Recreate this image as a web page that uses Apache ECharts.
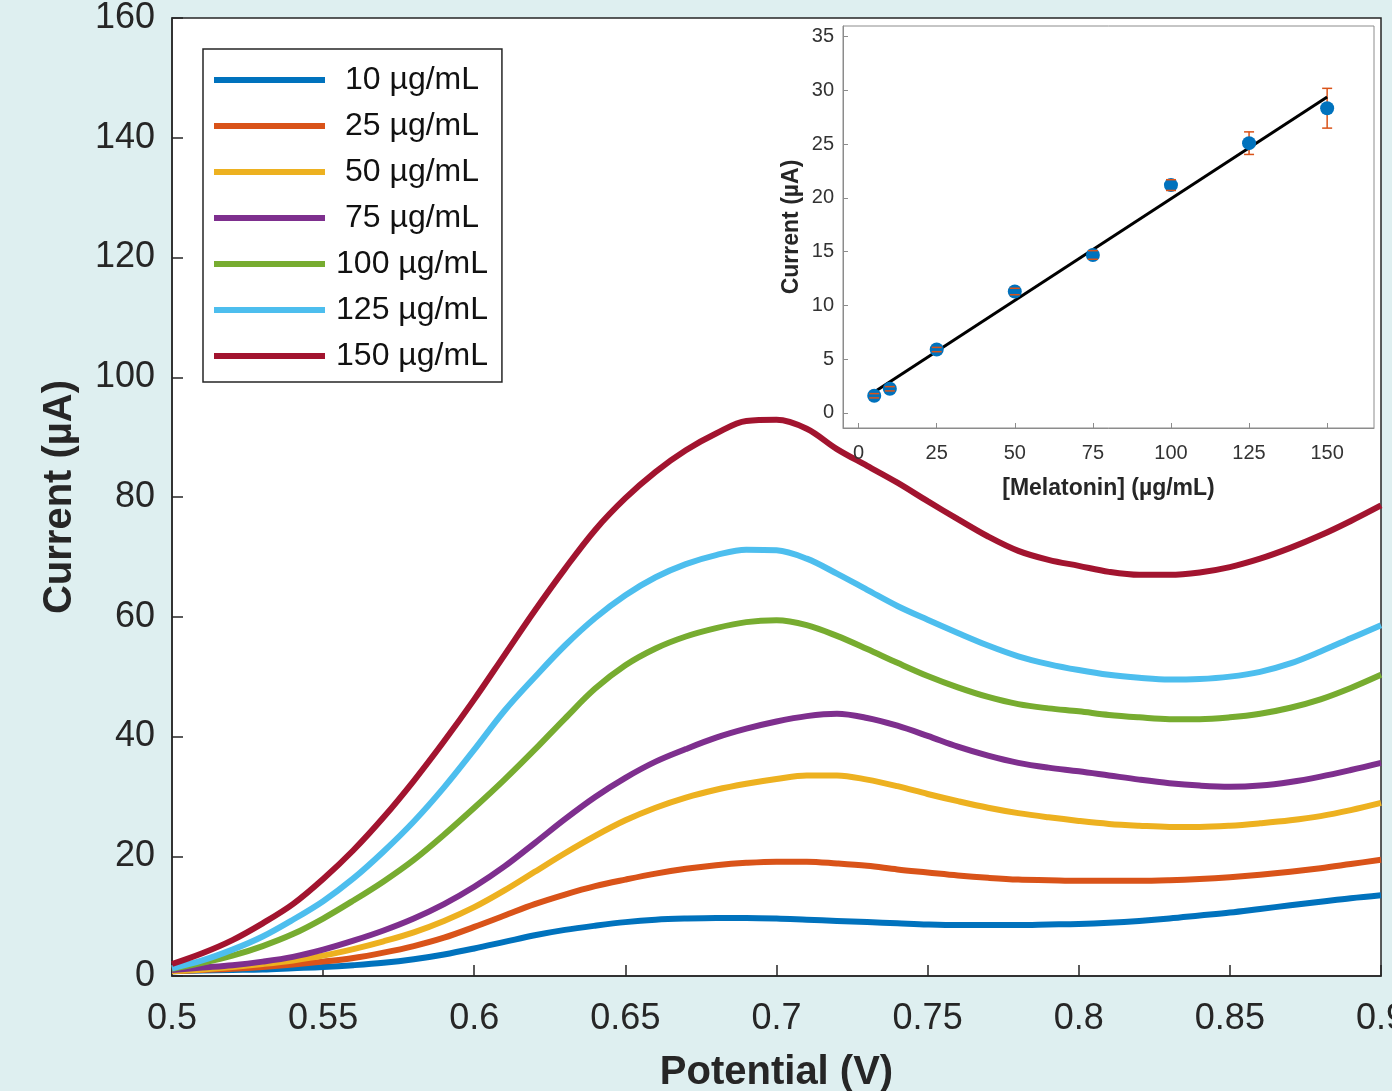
<!DOCTYPE html>
<html>
<head>
<meta charset="utf-8">
<script src="https://cdn.jsdelivr.net/npm/echarts@6/dist/echarts.min.js"></script>
<style>
  html, body { margin: 0; padding: 0; background: #deeff0; }
  #chart { width: 1392px; height: 1091px; }
</style>
</head>
<body>
<div id="chart"></div>
<script>
// Differential pulse voltammograms of melatonin at increasing concentration
const potentials = [0.50, 0.51, 0.52, 0.53, 0.54, 0.55, 0.56, 0.57, 0.58, 0.59,
                    0.60, 0.61, 0.62, 0.63, 0.64, 0.65, 0.66, 0.67, 0.68, 0.69,
                    0.70, 0.71, 0.72, 0.73, 0.74, 0.75, 0.76, 0.77, 0.78, 0.79,
                    0.80, 0.81, 0.82, 0.83, 0.84, 0.85, 0.86, 0.87, 0.88, 0.89, 0.90];

const seriesNames = ['10 µg/mL', '25 µg/mL', '50 µg/mL', '75 µg/mL', '100 µg/mL', '125 µg/mL', '150 µg/mL'];
const seriesColors = ['#0072BD', '#D95319', '#EDB120', '#7E2F8E', '#77AC30', '#4DBEEE', '#A2142F'];

const current10 = [0.8, 0.9, 1.0, 1.1, 1.3, 1.5, 1.8, 2.2, 2.8, 3.6,
                   4.6, 5.7, 6.8, 7.7, 8.4, 9.0, 9.4, 9.6, 9.7, 9.7,
                   9.6, 9.4, 9.2, 9.0, 8.8, 8.6, 8.5, 8.5, 8.5, 8.6,
                   8.7, 8.9, 9.2, 9.6, 10.1, 10.6, 11.2, 11.8, 12.4, 13.0, 13.5];
const current25 = [0.8, 1.0, 1.2, 1.5, 1.9, 2.4, 3.0, 3.9, 5.0, 6.4,
                   8.2, 10.1, 12.0, 13.6, 15.0, 16.1, 17.1, 17.9, 18.5, 18.9,
                   19.1, 19.1, 18.8, 18.4, 17.8, 17.3, 16.8, 16.4, 16.1, 16.0,
                   15.9, 15.9, 15.9, 16.0, 16.2, 16.5, 16.9, 17.4, 18.0, 18.7, 19.4];
const current50 = [0.8, 1.1, 1.5, 2.0, 2.6, 3.4, 4.5, 5.8, 7.3, 9.2,
                   11.5, 14.3, 17.4, 20.5, 23.4, 26.0, 28.1, 29.8, 31.1, 32.1,
                   32.9, 33.5, 33.5, 32.8, 31.7, 30.4, 29.2, 28.1, 27.2, 26.5,
                   25.9, 25.4, 25.1, 24.9, 24.9, 25.1, 25.5, 26.0, 26.7, 27.7, 28.9];
const current75 = [1.0, 1.4, 1.8, 2.4, 3.2, 4.4, 5.9, 7.6, 9.6, 12.0,
                   14.9, 18.3, 22.2, 26.2, 29.9, 33.1, 35.8, 37.9, 39.8, 41.3,
                   42.5, 43.4, 43.8, 43.1, 41.8, 40.1, 38.3, 36.8, 35.6, 34.8,
                   34.2, 33.5, 32.8, 32.2, 31.8, 31.6, 31.8, 32.4, 33.3, 34.4, 35.6];
const current100 = [1.2, 2.2, 3.4, 5.0, 7.0, 9.6, 12.6, 15.8, 19.4, 23.6,
                    28.1, 32.8, 37.8, 43.0, 48.0, 51.9, 54.7, 56.7, 58.1, 59.1,
                    59.4, 58.6, 56.8, 54.6, 52.3, 50.1, 48.2, 46.6, 45.4, 44.7,
                    44.2, 43.6, 43.2, 42.9, 42.9, 43.2, 43.8, 44.8, 46.2, 48.1, 50.3];
const current125 = [1.3, 2.6, 4.4, 6.6, 9.4, 12.5, 16.3, 20.8, 25.8, 31.5,
                    37.8, 44.3, 49.9, 55.2, 59.8, 63.6, 66.6, 68.8, 70.3, 71.2,
                    71.1, 69.7, 67.2, 64.5, 61.8, 59.5, 57.3, 55.2, 53.4, 52.1,
                    51.1, 50.3, 49.8, 49.5, 49.6, 50.0, 50.8, 52.2, 54.2, 56.4, 58.6];
const current150 = [2.0, 3.8, 6.0, 8.8, 12.0, 16.2, 21.0, 26.5, 32.6, 39.2,
                    46.2, 53.6, 61.0, 68.0, 74.5, 79.8, 84.2, 87.8, 90.6, 92.7,
                    92.9, 91.4, 88.0, 85.2, 82.4, 79.3, 76.3, 73.4, 71.0, 69.5,
                    68.5, 67.5, 67.0, 67.0, 67.4, 68.3, 69.7, 71.5, 73.6, 76.0, 78.6];
const currents = [current10, current25, current50, current75, current100, current125, current150];

// Calibration plot (inset)
const calConc    = [5, 10, 25, 50, 75, 100, 125, 150];
const calCurrent = [1.6, 2.25, 5.9, 11.3, 14.7, 21.2, 25.1, 28.35];
const calError   = [0.2, 0.2, 0.2, 0.3, 0.4, 0.5, 1.05, 1.85];
const fitConc    = [5, 150];
const fitCurrent = [1.94, 29.4];

const mainXTicks = [0.5, 0.9, 0.05];
const insetXTicks = [0, 25, 50, 75, 100, 125, 150];
const insetYTicks = [0, 5, 10, 15, 20, 25, 30, 35];

const FONT = '"Liberation Sans", Arial, Helvetica, sans-serif';
const DARK = '#262626';
const GREY = '#8c8c8c';

const chart = echarts.init(document.getElementById('chart'), null, { renderer: 'canvas' });

const lineSeries = seriesNames.map((name, i) => ({
  name: name,
  type: 'line',
  xAxisIndex: 0,
  yAxisIndex: 0,
  data: potentials.map((p, k) => [p, currents[i][k]]),
  smooth: 0.35,
  showSymbol: false,
  symbol: 'none',
  lineStyle: { color: seriesColors[i], width: 6 },
  itemStyle: { color: seriesColors[i] },
  z: 2
}));

const option = {
  backgroundColor: '#deeff0',
  animation: false,
  textStyle: { fontFamily: FONT },
  grid: [
    { left: 172, top: 18, right: 11, bottom: 115, show: true, backgroundColor: '#ffffff',
      borderColor: DARK, borderWidth: 1.5, containLabel: false, outerBoundsMode: 'none' },
    { left: 843, top: 26, right: 18, bottom: 663, show: true, backgroundColor: '#ffffff',
      borderColor: GREY, borderWidth: 1, containLabel: false, outerBoundsMode: 'none', z: 4 }
  ],
  legend: {
    data: seriesNames,
    orient: 'vertical',
    left: 203,
    top: 49,
    padding: [15, 14, 10, 11],
    itemWidth: 111,
    itemHeight: 6,
    itemGap: 14,
    icon: 'rect',
    backgroundColor: '#ffffff',
    borderColor: DARK,
    borderWidth: 1.5,
    borderRadius: 0,
    selectedMode: false,
    formatter: name => '{c|' + name + '}',
    textStyle: {
      color: '#111',
      fontFamily: FONT,
      rich: { c: { width: 150, align: 'center', padding: [0, 0, 0, 7], fontSize: 32, lineHeight: 34,
                   fontFamily: FONT, color: '#111' } }
    },
    z: 10
  },
  xAxis: [
    {
      type: 'value', gridIndex: 0,
      min: mainXTicks[0], max: mainXTicks[1], interval: mainXTicks[2],
      name: 'Potential (V)', nameLocation: 'middle', nameGap: 77,
      nameTextStyle: { fontSize: 40, fontWeight: 'bold', color: DARK, fontFamily: FONT },
      axisLine: { show: true, onZero: false, lineStyle: { color: DARK, width: 1.5 } },
      axisTick: { show: true, inside: true, length: 11, lineStyle: { color: DARK, width: 1.5 } },
      axisLabel: { fontSize: 36, color: DARK, margin: 25, showMaxLabel: true, showMinLabel: true,
                   hideOverlap: false, fontFamily: FONT,
                   formatter: v => String(parseFloat(v.toFixed(2))) },
      splitLine: { show: false }
    },
    {
      type: 'value', gridIndex: 1,
      min: -5, max: 165,
      name: '[Melatonin] (µg/mL)', nameLocation: 'middle', nameGap: 49,
      nameTextStyle: { fontSize: 23, fontWeight: 'bold', color: DARK, fontFamily: FONT },
      axisLine: { show: true, onZero: false, lineStyle: { color: GREY, width: 1 } },
      axisTick: { show: true, inside: true, length: 5, customValues: insetXTicks, lineStyle: { color: GREY, width: 1 } },
      axisLabel: { fontSize: 20, color: '#333', margin: 15, customValues: insetXTicks, fontFamily: FONT },
      splitLine: { show: false },
      z: 6
    }
  ],
  yAxis: [
    {
      type: 'value', gridIndex: 0,
      min: 0, max: 160, interval: 20,
      name: 'Current (µA)', nameLocation: 'middle', nameGap: 92,
      nameTextStyle: { fontSize: 40, fontWeight: 'bold', color: DARK, fontFamily: FONT },
      axisLine: { show: true, onZero: false, lineStyle: { color: DARK, width: 1.5 } },
      axisTick: { show: true, inside: true, length: 11, lineStyle: { color: DARK, width: 1.5 } },
      axisLabel: { fontSize: 36, color: DARK, margin: 17, fontFamily: FONT },
      splitLine: { show: false }
    },
    {
      type: 'value', gridIndex: 1,
      min: -1.4, max: 36,
      name: 'Current (µA)', nameLocation: 'middle', nameGap: 40,
      nameTextStyle: { fontSize: 23, fontWeight: 'bold', color: DARK, fontFamily: FONT },
      axisLine: { show: true, onZero: false, lineStyle: { color: GREY, width: 1 } },
      axisTick: { show: true, inside: true, length: 5, customValues: insetYTicks, lineStyle: { color: GREY, width: 1 } },
      axisLabel: { fontSize: 20, color: '#333', margin: 9, customValues: insetYTicks, fontFamily: FONT },
      splitLine: { show: false },
      z: 6
    }
  ],
  series: lineSeries.concat([
    {
      name: 'fit',
      type: 'line',
      xAxisIndex: 1, yAxisIndex: 1,
      data: fitConc.map((c, k) => [c, fitCurrent[k]]),
      showSymbol: false, symbol: 'none',
      lineStyle: { color: '#000', width: 3 },
      z: 5
    },
    {
      name: 'errStem',
      type: 'custom',
      xAxisIndex: 1, yAxisIndex: 1,
      data: calConc.map((c, k) => [c, calCurrent[k] - calError[k], calCurrent[k] + calError[k]]),
      renderItem: (params, api) => {
        const lo = api.coord([api.value(0), api.value(1)]);
        const hi = api.coord([api.value(0), api.value(2)]);
        return { type: 'line', shape: { x1: lo[0], y1: lo[1], x2: hi[0], y2: hi[1] },
                 style: { stroke: '#D95319', lineWidth: 1.5 } };
      },
      z: 5
    },
    {
      name: 'points',
      type: 'scatter',
      xAxisIndex: 1, yAxisIndex: 1,
      data: calConc.map((c, k) => [c, calCurrent[k]]),
      symbol: 'circle', symbolSize: 14,
      itemStyle: { color: '#0072BD', opacity: 1 },
      z: 6
    },
    {
      name: 'errCap',
      type: 'custom',
      xAxisIndex: 1, yAxisIndex: 1,
      data: calConc.map((c, k) => [c, calCurrent[k] - calError[k], calCurrent[k] + calError[k]]),
      renderItem: (params, api) => {
        const lo = api.coord([api.value(0), api.value(1)]);
        const hi = api.coord([api.value(0), api.value(2)]);
        const w = 5;
        return { type: 'group', children: [
          { type: 'line', shape: { x1: lo[0] - w, y1: lo[1], x2: lo[0] + w, y2: lo[1] }, style: { stroke: '#D95319', lineWidth: 1.5 } },
          { type: 'line', shape: { x1: hi[0] - w, y1: hi[1], x2: hi[0] + w, y2: hi[1] }, style: { stroke: '#D95319', lineWidth: 1.5 } }
        ] };
      },
      z: 7
    }
  ])
};

chart.setOption(option);
</script>
</body>
</html>
